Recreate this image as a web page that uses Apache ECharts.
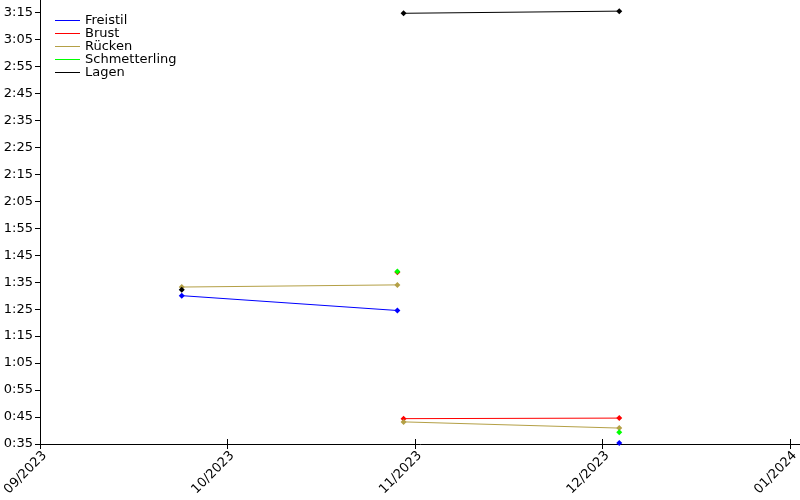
<!DOCTYPE html>
<html><head><meta charset="utf-8">
<script src="https://cdn.jsdelivr.net/npm/echarts@6/dist/echarts.min.js"></script>
<style>html,body{margin:0;padding:0;background:#fff}#c{width:800px;height:500px}</style>
</head><body><div id="c"></div>
<script>
// ---- data (times in seconds) ----
const strokes = ['Freistil', 'Brust', 'Rücken', 'Schmetterling', 'Lagen'];
// each stroke: list of segments (one per race distance), each segment: [date, seconds]
const freistil = [[['2023-09-24', 90.0], ['2023-10-29', 84.5]], [['2023-12-04', 35.4]]];
const brust = [[['2023-10-29', 98.7]], [['2023-10-30', 44.4], ['2023-12-04', 44.6]]];
const ruecken = [[['2023-09-24', 93.2], ['2023-10-29', 94.0]], [['2023-10-30', 43.2], ['2023-12-04', 40.9]]];
const schmetterling = [[['2023-10-29', 99.0]], [['2023-12-04', 39.4]]];
const lagen = [[['2023-09-24', 92.2]], [['2023-10-30', 194.7], ['2023-12-04', 195.5]]];
const xTickLabels = ['09/2023', '10/2023', '11/2023', '12/2023', '01/2024'];
const yMin = 35, yMax = 200, yStep = 10;
const xStart = '2023-09-01T00:00', xEnd = '2024-01-02T12:00';
const xStepDays = 30.4375;

// ---- build ----
const t = s => Date.parse((s.length === 10 ? s + 'T00:00' : s) + ':00Z');
const strokeData = [freistil, brust, ruecken, schmetterling, lagen];
const colors = ['#0000ff', '#ff0000', '#b4a046', '#00ff00', '#000000'];
const FONT = 'DejaVu Sans';
const xMin = t(xStart), xMax = t(xEnd), xInt = xStepDays * 86400000;

const series = [];
strokes.forEach((name, i) => {
  strokeData[i].forEach(seg => {
    series.push({
      type: 'line', name: name,
      data: seg.map(p => [t(p[0]), p[1]]),
      symbol: 'diamond', symbolSize: 6, showAllSymbol: true,
      lineStyle: { width: 1, color: colors[i] },
      itemStyle: { color: colors[i], borderWidth: 0 },
      emphasis: { disabled: true }, animation: false
    });
  });
});

const fmtTime = v => Math.floor(v / 60) + ':' + String(Math.round(v % 60)).padStart(2, '0');
const xFmt = v => {
  const k = (v - xMin) / xInt, r = Math.round(k);
  return (Math.abs(k - r) < 1e-6 && xTickLabels[r]) ? xTickLabels[r] : '';
};
const axisCommon = { lineStyle: { color: '#000', width: 1 } };

const chart = echarts.init(document.getElementById('c'), null, { renderer: 'canvas' });
chart.setOption({
  animation: false,
  backgroundColor: '#fff',
  grid: { left: 40, right: -1, top: -1, bottom: 56, containLabel: false, outerBoundsMode: 'none' },
  legend: {
    data: strokes.map((n, i) => ({ name: n, itemStyle: { color: colors[i], borderWidth: 0, borderColor: colors[i] } })),
    orient: 'vertical', left: 50, top: 9,
    icon: 'rect', itemWidth: 25, itemHeight: 1, itemGap: 0, selectedMode: false,
    itemStyle: { borderWidth: 0 },
    textStyle: { fontSize: 13, fontFamily: FONT, color: '#000', lineHeight: 13 }
  },
  xAxis: [{
    type: 'value', min: xMin, max: xMax, interval: xInt,
    axisLine: { show: true, ...axisCommon },
    axisTick: { show: true, length: 5, ...axisCommon },
    splitLine: { show: false },
    axisLabel: { rotate: 45, margin: 5, verticalAlign: 'top', fontSize: 13, fontFamily: FONT, color: '#000', formatter: xFmt,
      showMinLabel: true, showMaxLabel: true, hideOverlap: false }
  }, {
    type: 'value', min: xMin, max: xMax, interval: xInt, position: 'top', offset: -445,
    axisLine: { show: false }, axisLabel: { show: false }, splitLine: { show: false },
    axisTick: { show: true, length: 5, ...axisCommon }
  }],
  yAxis: {
    type: 'value', min: yMin, max: yMax, interval: yStep,
    axisLine: { show: true, ...axisCommon },
    axisTick: { show: true, length: 5, ...axisCommon },
    splitLine: { show: false },
    axisLabel: { margin: 7, fontSize: 13, fontFamily: FONT, color: '#000',
      formatter: v => (v % 10 === 5 ? fmtTime(v) : ''), showMinLabel: true, hideOverlap: false }
  },
  series: series
});
</script></body></html>
